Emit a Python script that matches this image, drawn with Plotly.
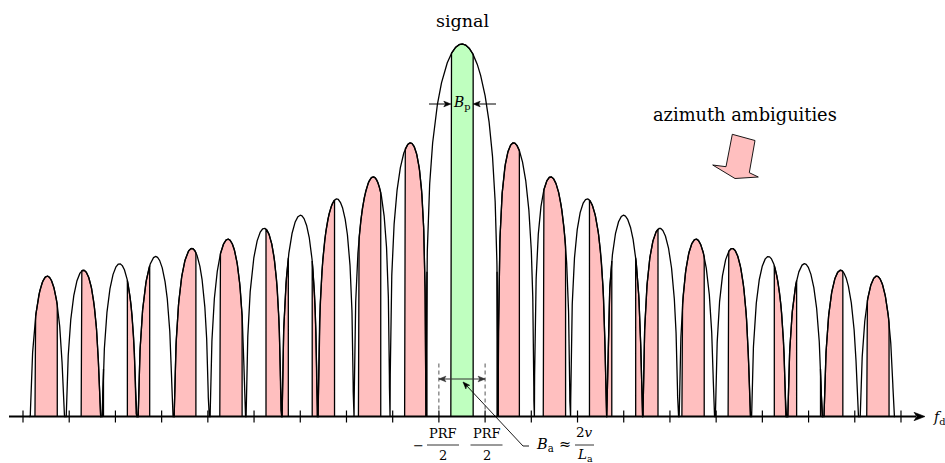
import numpy as np
import plotly.graph_objects as go

# ---- quantities (frequency in units of PRF, level in dB above the display floor) ----
PRF = 1.0
LOBE_WIDTH = 0.781          # null-to-null spacing of the azimuth antenna pattern
N_LOBES = 12                # lobes drawn on each side of the main lobe
FLOOR_DB = 50.0             # dynamic range shown above the frequency axis
BP = 0.483                  # processed Doppler bandwidth B_p
alias_orders = [-9, -8, -7, -6, -5, -4, -3, -2, -1, 1, 2, 3, 4, 5, 6, 7, 8, 9]
tick_positions = [k + 0.5 for k in range(-10, 10)]
half_prf_marks = [-0.5, 0.5]

# ---- page geometry (pixels) ----
W, H = 945, 463
X0_PX, PX_PER_PRF = 462.0, 46.21
Y0_PX, PX_PER_DB = 416.5, 7.45


def px2x(px):
    return (px - X0_PX) / PX_PER_PRF


def px2y(py):
    return (Y0_PX - py) / PX_PER_DB


def x2px(x):
    return X0_PX + x * PX_PER_PRF


def y2px(y):
    return Y0_PX - y * PX_PER_DB


def pattern_db(f):
    """Azimuth spectrum |sinc|^2 in dB, clipped at the display floor."""
    s = np.abs(np.sinc(np.asarray(f) / LOBE_WIDTH))
    return np.clip(FLOOR_DB + 20.0 * np.log10(s + 1e-12), 0.0, None)


PINK = "#ffbfbf"
GREEN = "#bfffbf"
SERIF = "'DejaVu Serif', 'Liberation Serif', serif"

fig = go.Figure()


def band_trace(center, color):
    fb = np.linspace(center - BP / 2, center + BP / 2, 200)
    lev = pattern_db(fb)
    xs = np.concatenate([[fb[0]], fb, [fb[-1]]])
    ys = np.concatenate([[0.0], lev, [0.0]])
    return go.Scatter(x=xs, y=ys, mode="lines", fill="toself", fillcolor=color,
                      line=dict(color="black", width=1.3), hoverinfo="skip",
                      showlegend=False)


# aliased (ambiguous) bands
for k in alias_orders:
    fig.add_trace(band_trace(k * PRF, PINK))
# processed band of the wanted signal
fig.add_trace(band_trace(0.0, GREEN))

# full azimuth spectrum
f = np.linspace(-N_LOBES * LOBE_WIDTH, N_LOBES * LOBE_WIDTH, 12001)
fig.add_trace(go.Scatter(x=f, y=pattern_db(f), mode="lines",
                         line=dict(color="black", width=1.3),
                         hoverinfo="skip", showlegend=False))

shapes = []


def seg(x0, y0, x1, y1, color="black", width=1.0, dash=None):
    ln = dict(color=color, width=width)
    if dash:
        ln["dash"] = dash
    shapes.append(dict(type="line", xref="x", yref="y", x0=x0, y0=y0,
                       x1=x1, y1=y1, line=ln))


def arrow_head(tip_x, tip_y, from_x, from_y, length=7.0, half=2.8, color="black"):
    """Filled triangular head at (tip_x, tip_y) pointing away from (from_x, from_y)."""
    tx, ty = x2px(tip_x), y2px(tip_y)
    fx, fy = x2px(from_x), y2px(from_y)
    d = np.array([tx - fx, ty - fy])
    d = d / np.hypot(*d)
    n = np.array([-d[1], d[0]])
    base = np.array([tx, ty]) - d * length
    notch = np.array([tx, ty]) - d * length * 0.75
    pts = [(tx, ty), tuple(base + n * half), tuple(notch), tuple(base - n * half)]
    path = "M " + " L ".join(f"{px2x(a):.5f},{px2y(b):.5f}" for a, b in pts) + " Z"
    shapes.append(dict(type="path", xref="x", yref="y", path=path,
                       fillcolor=color, line=dict(color=color, width=0.6)))


tick_half = 6 / PX_PER_DB
for t in tick_positions:
    seg(t, -tick_half, t, tick_half, width=1.2)
# dashed markers at +/- PRF/2
for m in half_prf_marks:
    seg(m, 0, m, px2y(363), color="#555555", width=1, dash="4px,3px")

# frequency axis with arrow
seg(px2x(9), 0, px2x(916), 0, width=2)
arrow_head(px2x(925), 0, px2x(9), 0, length=11, half=4.2)

# B_a double arrow between -PRF/2 and PRF/2
y_ba = px2y(379)
seg(half_prf_marks[0], y_ba, half_prf_marks[1], y_ba, color="#333333", width=1.1)
arrow_head(half_prf_marks[1], y_ba, half_prf_marks[0], y_ba, color="#333333")
arrow_head(half_prf_marks[0], y_ba, half_prf_marks[1], y_ba, color="#333333")

# pointer from the B_a label
seg(px2x(529), px2y(446), px2x(523), px2y(446), width=0.9)
seg(px2x(523), px2y(446), px2x(466), px2y(385), width=0.9)
arrow_head(px2x(463), px2y(382), px2x(523), px2y(446), length=7, half=2.6)

# B_p arrows pointing inwards at the band edges
y_bp = px2y(104)
seg(px2x(429), y_bp, -BP / 2 - 0.05, y_bp, width=1)
arrow_head(-BP / 2, y_bp, px2x(429), y_bp, length=7, half=2.8)
seg(px2x(496), y_bp, BP / 2 + 0.05, y_bp, width=1)
arrow_head(BP / 2, y_bp, px2x(496), y_bp, length=7, half=2.8)

# fraction bars of the tick labels
for cx in (443.0, 486.5):
    seg(px2x(cx - 16), px2y(445), px2x(cx + 16), px2y(445), width=0.8)
seg(px2x(575), px2y(445), px2x(594), px2y(445), width=0.8)

# block arrow pointing at the ambiguities
arrow_pts = [(732.3, 134.3), (755, 140.5), (749.3, 172.7), (758.3, 177),
             (735, 178.5), (712.7, 165), (726, 166.7)]
path = "M " + " L ".join(f"{px2x(a):.4f},{px2y(b):.4f}" for a, b in arrow_pts) + " Z"
shapes.append(dict(type="path", xref="x", yref="y", path=path,
                   fillcolor=PINK, line=dict(color="black", width=0.9)))

ann = []


def label(px, py, text, size=15):
    ann.append(dict(x=px2x(px), y=px2y(py), xref="x", yref="y", text=text,
                    showarrow=False, xanchor="center", yanchor="middle",
                    font=dict(family=SERIF, size=size, color="black")))


label(462, 21, "signal", 17.5)
label(745, 114, "azimuth ambiguities", 17.8)
label(462, 103, "<i>B</i><sub>p</sub>", 14)
label(939, 418, "<i>f</i><sub>d</sub>", 14)
label(418, 445, "\u2212", 13)
label(443, 433, "PRF", 13)
label(443, 455, "2", 13)
label(486.5, 433, "PRF", 13)
label(486.5, 455, "2", 13)
label(545, 445, "<i>B</i><sub>a</sub>", 14.5)
label(564.5, 444, "\u2248", 14.5)
label(584.5, 432, "2<i>v</i>", 13.5)
label(584.5, 455, "<i>L</i><sub>a</sub>", 13.5)

fig.update_layout(
    width=W, height=H,
    margin=dict(l=0, r=0, t=0, b=0),
    paper_bgcolor="white", plot_bgcolor="white",
    xaxis=dict(range=[px2x(0), px2x(W)], visible=False, fixedrange=True),
    yaxis=dict(range=[px2y(H), px2y(0)], visible=False, fixedrange=True),
    shapes=shapes, annotations=ann, showlegend=False,
)

fig.write_html("out.html")
